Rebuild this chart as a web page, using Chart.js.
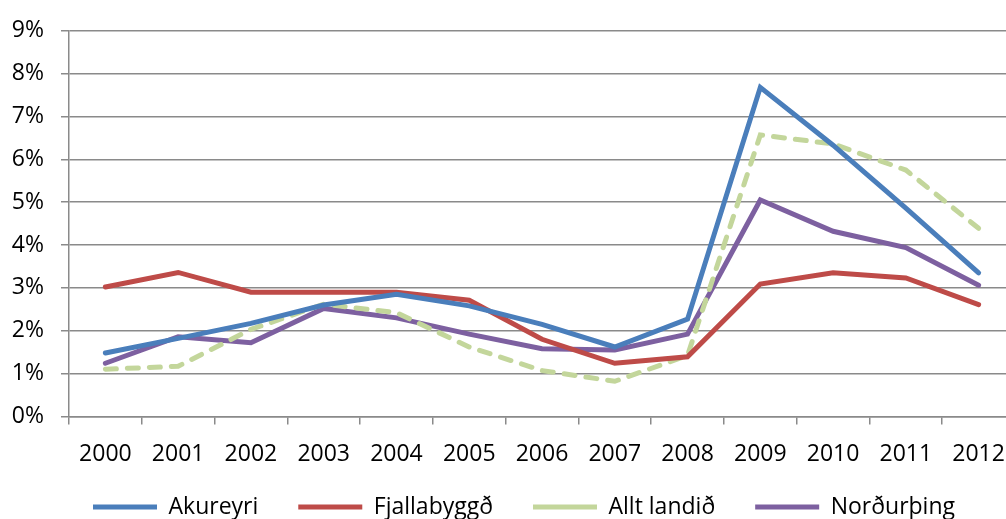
<!DOCTYPE html>
<html>
<head>
<meta charset="utf-8">
<script src="https://cdn.jsdelivr.net/npm/chart.js@4"></script>
<style>
  html, body { margin: 0; padding: 0; background: #fff; overflow: hidden; }
  #wrap { width: 1006px; height: 519px; overflow: hidden; }
</style>
</head>
<body>
<div id="wrap"><canvas id="myChart" width="1050" height="557"></canvas></div>
<script>
const years = ['2000', '2001', '2002', '2003', '2004', '2005', '2006', '2007', '2008', '2009', '2010', '2011', '2012'];
const akureyri = [1.48, 1.82, 2.17, 2.6, 2.85, 2.58, 2.15, 1.62, 2.27, 7.68, 6.33, 4.86, 3.35];
const fjallabyggd = [3.02, 3.36, 2.9, 2.9, 2.9, 2.71, 1.8, 1.24, 1.39, 3.09, 3.35, 3.23, 2.61];
const alltLandid = [1.1, 1.17, 2.03, 2.62, 2.42, 1.62, 1.07, 0.82, 1.42, 6.57, 6.36, 5.75, 4.39];
const nordurthing = [1.24, 1.86, 1.72, 2.52, 2.3, 1.92, 1.58, 1.55, 1.92, 5.05, 4.32, 3.94, 3.06];
const yTicks = [0, 1, 2, 3, 4, 5, 6, 7, 8, 9];

const FONT = "'Open Sans', 'DejaVu Sans', sans-serif";
const GRID = '#8a8a8a';

const line = (label, data, color, dash) => ({
    label,
    data,
    borderColor: color,
    backgroundColor: color,
    borderWidth: 5,
    borderDash: dash || [],
    borderCapStyle: 'round',
    borderJoinStyle: 'miter',
    pointRadius: 0,
    pointStyle: 'line',
    tension: 0,
    fill: false
});

// legend: centred on the whole (cropped) picture and pulled up under the year labels
const legendShift = {
    id: 'legendShift',
    afterLayout(chart) {
        const lg = chart.legend;
        const h = lg.height;
        lg.left = 0;
        lg.right = 1048;
        lg.top = 455.5;
        lg.bottom = lg.top + h;
    }
};

const ctx = document.getElementById('myChart').getContext('2d');
new Chart(ctx, {
    type: 'line',
    data: {
        labels: years,
        datasets: [
            line('Akureyri', akureyri, '#4a7ebb'),
            line('Fjallabyggð', fjallabyggd, '#be4b48'),
            line('Allt landið', alltLandid, '#c3d69b', [11, 11]),
            line('Norðurþing', nordurthing, '#7d60a0')
        ]
    },
    options: {
        responsive: false,
        animation: false,
        devicePixelRatio: 1,
        layout: { padding: { top: 15, right: 35, left: 0, bottom: 0 } },
        scales: {
            x: {
                offset: true,
                grid: { offset: true, drawOnChartArea: false, color: GRID, lineWidth: 1.5, tickLength: 8 },
                border: { color: GRID, width: 1.5 },
                ticks: { color: '#000', padding: 16, font: { family: FONT, size: 23 }, maxRotation: 0, autoSkip: false }
            },
            y: {
                min: 0,
                max: 9,
                afterFit: s => { s.width = 69; },
                afterBuildTicks: s => { s.ticks = yTicks.map(v => ({ value: v })); },
                grid: { color: GRID, lineWidth: 1.5, tickLength: 8 },
                border: { color: GRID, width: 1.5 },
                ticks: {
                    color: '#000',
                    padding: 17,
                    font: { family: FONT, size: 23 },
                    callback: v => v + '%'
                }
            }
        },
        plugins: {
            tooltip: { enabled: false },
            legend: {
                position: 'bottom',
                labels: {
                    color: '#000',
                    font: { family: FONT, size: 23 },
                    usePointStyle: true,
                    pointStyleWidth: 64,
                    boxHeight: 6,
                    padding: 40
                }
            }
        }
    },
    plugins: [legendShift]
});
</script>
</body>
</html>
